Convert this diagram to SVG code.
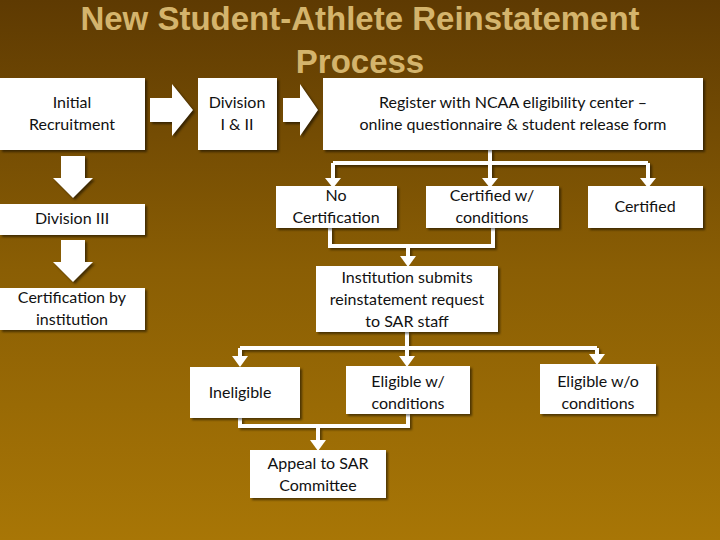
<svg xmlns="http://www.w3.org/2000/svg" width="720" height="540" viewBox="0 0 720 540">
<defs>
<linearGradient id="bg" x1="0" y1="0" x2="0" y2="1"><stop offset="0" stop-color="#5e3a02"/><stop offset="0.5" stop-color="#8a5e04"/><stop offset="1" stop-color="#a87606"/></linearGradient>
</defs>
<style>
.b{fill:#fff;filter:drop-shadow(2px 2px 1px rgba(0,0,0,0.5))}
.t{font-family:Lato,"Open Sans","DejaVu Sans",sans-serif;font-size:16px;fill:#111;text-anchor:middle}
.c{fill:none;stroke:#fff;stroke-width:4;filter:drop-shadow(2px 2px 1px rgba(0,0,0,0.45))}
.h{fill:#fff}
</style>
<rect width="720" height="540" fill="url(#bg)"/>
<text x="360" y="30" font-family="Liberation Sans,Arial,sans-serif" font-weight="bold" font-size="33" fill="#d4b46c" text-anchor="middle">New Student-Athlete Reinstatement</text>
<text x="360" y="73" font-family="Liberation Sans,Arial,sans-serif" font-weight="bold" font-size="33" fill="#d4b46c" text-anchor="middle">Process</text>
<g id="connectors">
<path class="c" d="M490,150 V163 M333,163 H648 M333,163 V180 M490,163 V180 M648,163 V180"/>
<path class="h" d="M325,178 H341 L333,188 Z M482,178 H498 L490,188 Z M640,178 H656 L648,188 Z"/>
<path class="c" d="M330,228 V246 H493 V228 M408,246 V258"/>
<path class="h" d="M400,256 H416 L408,267 Z"/>
<path class="c" d="M407,332 V348 M240,348 H597 M240,348 V358 M407,348 V358 M597,348 V356"/>
<path class="h" d="M232,356 H248 L240,367 Z M399,356 H415 L407,367 Z M589,354 H605 L597,365 Z"/>
<path class="c" d="M240,418 V426 H408 V414 M318,426 V442"/>
<path class="h" d="M310,440 H326 L318,451 Z"/>
<g class="b">
<path d="M150,98 H172 V84 L193,110 L172,136 V122 H150 Z"/>
<path d="M283,98 H300 V84 L318,110 L300,136 V122 H283 Z"/>
<path d="M61,156 H85 V178 H93 L73,198 L53,178 H61 Z"/>
<path d="M61,240 H85 V262 H93 L73,282 L53,262 H61 Z"/>
</g>
</g>
<g id="n1"><rect class="b" x="0" y="78" width="145" height="72"/><text class="t" x="72" y="108">Initial</text><text class="t" x="72" y="130">Recruitment</text></g>
<g id="n2"><rect class="b" x="198" y="78" width="79" height="72"/><text class="t" x="237" y="108">Division</text><text class="t" x="237" y="130">I &amp; II</text></g>
<g id="n3"><rect class="b" x="323" y="78" width="380" height="72"/><text class="t" x="513" y="108">Register with NCAA eligibility center –</text><text class="t" x="513" y="130">online questionnaire &amp; student release form</text></g>
<g id="n4"><rect class="b" x="0" y="204" width="145" height="31"/><text class="t" x="72" y="224">Division III</text></g>
<g id="n5"><rect class="b" x="0" y="288" width="145" height="42"/><text class="t" x="72" y="303">Certification by</text><text class="t" x="72" y="325">institution</text></g>
<g id="n6"><rect class="b" x="276" y="186" width="121" height="42"/><text class="t" x="336" y="201">No</text><text class="t" x="336" y="223">Certification</text></g>
<g id="n7"><rect class="b" x="426" y="186" width="133" height="42"/><text class="t" x="492" y="201">Certified w/</text><text class="t" x="492" y="223">conditions</text></g>
<g id="n8"><rect class="b" x="588" y="186" width="115" height="42"/><text class="t" x="645" y="212">Certified</text></g>
<g id="n9"><rect class="b" x="316" y="266" width="182" height="66"/><text class="t" x="407" y="283">Institution submits</text><text class="t" x="407" y="305">reinstatement request</text><text class="t" x="407" y="327">to SAR staff</text></g>
<g id="n10"><rect class="b" x="190" y="367" width="110" height="51"/><text class="t" x="240" y="398">Ineligible</text></g>
<g id="n11"><rect class="b" x="346" y="366" width="124" height="48"/><text class="t" x="408" y="387">Eligible w/</text><text class="t" x="408" y="409">conditions</text></g>
<g id="n12"><rect class="b" x="540" y="364" width="116" height="50"/><text class="t" x="598" y="387">Eligible w/o</text><text class="t" x="598" y="409">conditions</text></g>
<g id="n13"><rect class="b" x="250" y="450" width="136" height="48"/><text class="t" x="318" y="469">Appeal to SAR</text><text class="t" x="318" y="491">Committee</text></g>
</svg>
